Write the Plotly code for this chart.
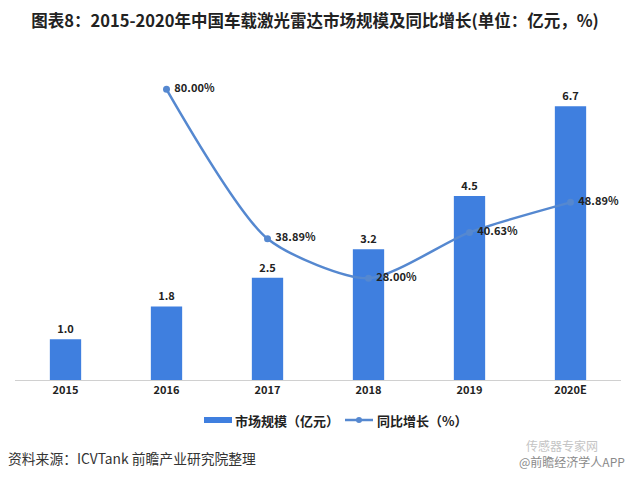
import plotly.graph_objects as go

years = ["2015", "2016", "2017", "2018", "2019", "2020E"]
market_size = [1.0, 1.8, 2.5, 3.2, 4.5, 6.7]
growth_years = ["2016", "2017", "2018", "2019", "2020E"]
growth_rate = [80.00, 38.89, 28.00, 40.63, 48.89]

FONT = "Noto Sans CJK SC, Microsoft YaHei, sans-serif"
BAR_COLOR = "#3f7fdf"
LINE_COLOR = "#5588d0"
W, H = 630, 477
ML, MR, MT, MB = 15, 9, 53, 97
PW, PH = W - ML - MR, H - MT - MB


def px(x):
    return (x - ML) / PW


def py(y):
    return (H - MB - y) / PH


fig = go.Figure()
fig.add_trace(go.Bar(
    x=years, y=market_size, name="市场规模（亿元）",
    marker=dict(color=BAR_COLOR, line=dict(width=0)),
    text=[f"{v:.1f}" for v in market_size], textposition="outside",
    textfont=dict(family=FONT, size=11, color="#222222", weight="bold"),
    cliponaxis=False, showlegend=False,
))
fig.add_trace(go.Scatter(
    x=growth_years, y=growth_rate, name="同比增长（%）", yaxis="y2",
    mode="lines+markers+text",
    line=dict(color=LINE_COLOR, width=2.5, shape="spline", smoothing=0.7),
    marker=dict(color=LINE_COLOR, size=7),
    text=[f"\u00a0{v:.2f}%" for v in growth_rate], textposition="middle right",
    textfont=dict(family=FONT, size=11, color="#222222", weight="bold"),
    cliponaxis=False, showlegend=False,
))

legend_y = py(420)
shapes = [
    dict(type="rect", xref="paper", yref="paper",
         x0=px(204), x1=px(232), y0=py(423), y1=py(417),
         fillcolor=BAR_COLOR, line=dict(width=0)),
    dict(type="line", xref="paper", yref="paper",
         x0=px(345), x1=px(373), y0=legend_y, y1=legend_y,
         line=dict(color=LINE_COLOR, width=2.5)),
    dict(type="circle", xref="paper", yref="paper",
         x0=px(356), x1=px(362), y0=py(423), y1=py(417),
         fillcolor=LINE_COLOR, line=dict(width=0)),
]

fig.update_layout(
    width=W, height=H,
    margin=dict(l=ML, r=MR, t=MT, b=MB, autoexpand=False),
    paper_bgcolor="white", plot_bgcolor="white",
    font=dict(family=FONT, color="#222222"),
    bargap=0.69,
    showlegend=False,
    title=dict(
        text="图表8：2015-2020年中国车载激光雷达市场规模及同比增长(单位：亿元，%)",
        x=0.5, xanchor="center", y=0.955, yanchor="middle",
        font=dict(family=FONT, size=16.5, color="#222222", weight="bold"),
    ),
    xaxis=dict(
        type="category", categoryorder="array", categoryarray=years,
        showgrid=False, showline=True, linecolor="#d0d0d0", linewidth=1,
        ticks="", tickfont=dict(family=FONT, size=11, color="#222222", weight="bold"),
    ),
    yaxis=dict(range=[0, 8], visible=False, showgrid=False),
    yaxis2=dict(range=[0, 90], overlaying="y", side="right", visible=False, showgrid=False),
    shapes=shapes,
    annotations=[
        dict(text="市场规模（亿元）", xref="paper", yref="paper",
             x=px(233), y=legend_y, xanchor="left", yanchor="middle", showarrow=False,
             font=dict(family=FONT, size=13, color="#222222", weight="bold")),
        dict(text="同比增长（%）", xref="paper", yref="paper",
             x=px(375), y=legend_y, xanchor="left", yanchor="middle", showarrow=False,
             font=dict(family=FONT, size=13, color="#222222", weight="bold")),
        dict(text="资料来源：ICVTank 前瞻产业研究院整理", xref="paper", yref="paper",
             x=px(6), y=py(458), xanchor="left", yanchor="middle", showarrow=False,
             font=dict(family=FONT, size=13.8, color="#333333")),
        dict(text="传感器专家网", xref="paper", yref="paper",
             x=px(600), y=py(445), xanchor="right", yanchor="middle", showarrow=False,
             font=dict(family=FONT, size=12, color="#c4c4c4")),
        dict(text="@前瞻经济学人APP", xref="paper", yref="paper",
             x=px(627), y=py(461), xanchor="right", yanchor="middle", showarrow=False,
             font=dict(family=FONT, size=12, color="#8a8a8a")),
    ],
)

fig.write_html("out.html", config={"displayModeBar": False},
               post_script="document.body.style.margin='0';")
